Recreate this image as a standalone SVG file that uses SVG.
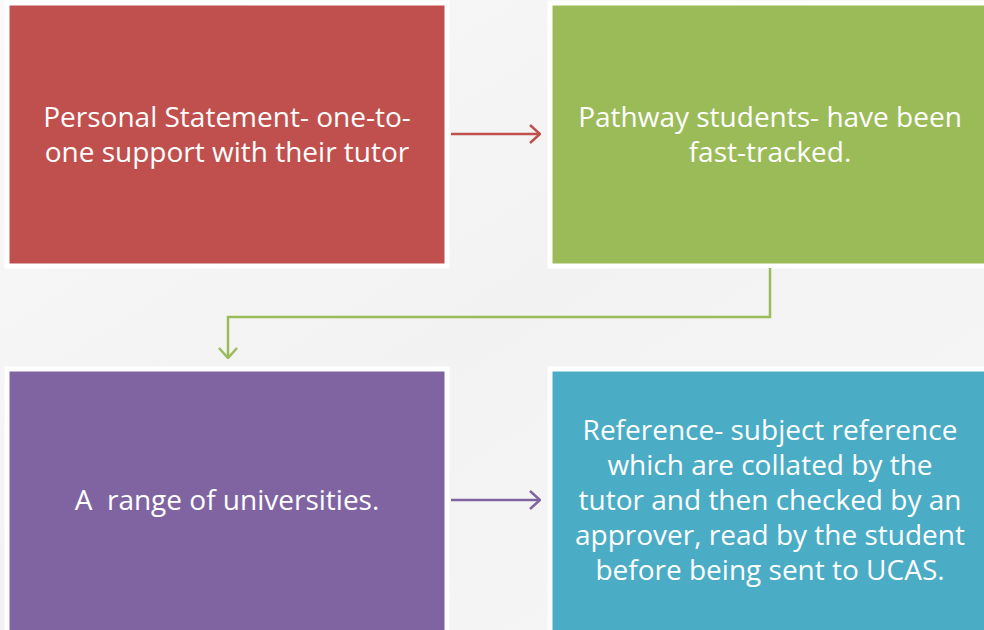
<svg xmlns="http://www.w3.org/2000/svg" width="984" height="630" viewBox="0 0 984 630">
<defs>
<style>
.box{stroke:#ffffff;stroke-width:5}
.t{font-family:"Open Sans","Liberation Sans",sans-serif;font-size:28px;fill:#ffffff;text-anchor:middle}
.c{fill:none;stroke-width:2.5;stroke-linejoin:miter}
</style>
<linearGradient id="bg" x1="0" y1="0" x2="1" y2="1">
<stop offset="0" stop-color="#f9f9f9"/>
<stop offset="0.5" stop-color="#f2f2f2"/>
<stop offset="1" stop-color="#f7f7f7"/>
</linearGradient>
<marker id="ar-red" viewBox="0 0 12 20" refX="11" refY="10" markerWidth="12" markerHeight="20" markerUnits="userSpaceOnUse" orient="auto">
<path d="M1,1 L11,10 L1,19" fill="none" stroke="#C0504D" stroke-width="2.5"/>
</marker>
<marker id="ar-green" viewBox="0 0 12 20" refX="11" refY="10" markerWidth="12" markerHeight="20" markerUnits="userSpaceOnUse" orient="auto">
<path d="M1,1 L11,10 L1,19" fill="none" stroke="#9BBB59" stroke-width="2.5"/>
</marker>
<marker id="ar-purple" viewBox="0 0 12 20" refX="11" refY="10" markerWidth="12" markerHeight="20" markerUnits="userSpaceOnUse" orient="auto">
<path d="M1,1 L11,10 L1,19" fill="none" stroke="#8064A2" stroke-width="2.5"/>
</marker>
</defs>
<rect width="984" height="630" fill="url(#bg)"/>
<g id="node-personal">
<rect class="box" x="7" y="3" width="440" height="263" fill="#C0504D"/>
<text class="t" x="227" y="127">Personal Statement- one-to-</text>
<text class="t" x="227" y="162">one support with their tutor</text>
</g>
<g id="node-pathway">
<rect class="box" x="550" y="3" width="440" height="263" fill="#9BBB59"/>
<text class="t" x="770" y="127">Pathway students- have been</text>
<text class="t" x="770" y="162">fast-tracked.</text>
</g>
<g id="node-universities">
<rect class="box" x="7" y="369" width="440" height="265" fill="#8064A2"/>
<text class="t" x="227" y="510" xml:space="preserve">A  range of universities.</text>
</g>
<g id="node-reference">
<rect class="box" x="550" y="369" width="440" height="265" fill="#4BACC6"/>
<text class="t" x="770" y="440">Reference- subject reference</text>
<text class="t" x="770" y="475">which are collated by the</text>
<text class="t" x="770" y="510">tutor and then checked by an</text>
<text class="t" x="770" y="545">approver, read by the student</text>
<text class="t" x="770" y="580">before being sent to UCAS.</text>
</g>
<g id="connectors">
<path class="c" d="M451,134 L540,134" stroke="#C0504D" marker-end="url(#ar-red)"/>
<path class="c" d="M770,268 L770,317 L228,317 L228,358" stroke="#9BBB59" marker-end="url(#ar-green)"/>
<path class="c" d="M451,500 L540,500" stroke="#8064A2" marker-end="url(#ar-purple)"/>
</g>
</svg>
